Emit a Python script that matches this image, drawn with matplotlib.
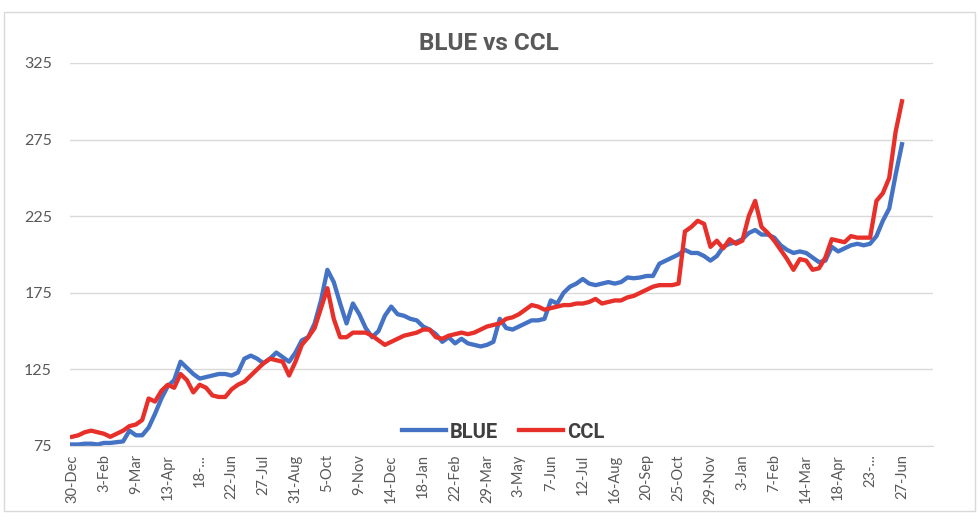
import numpy as np
import pandas as pd
import matplotlib
matplotlib.use('Agg')
import matplotlib.pyplot as plt
import matplotlib.dates as mdates
from matplotlib.patches import Rectangle

plt.rcParams['font.family'] = ['Lato', 'DejaVu Sans']

# weekly readings, starting Monday 30-Dec-2019
start = pd.Timestamp('2019-12-30')
weeks = pd.date_range(start, periods=131, freq='7D')

blue = [76, 76, 76.5, 76.5, 76, 77, 77, 77.5, 78, 85,
        82, 82, 87, 96, 106, 114, 118, 130, 126, 122,
        119, 120, 121, 122, 122, 121, 123, 132, 134, 132,
        129, 132, 136, 133, 130, 136, 144, 146, 155, 170,
        190, 182, 168, 155, 168, 161, 152, 146, 150, 160,
        166, 161, 160, 158, 157, 153, 151, 148, 143, 146,
        142, 145, 142, 141, 140, 141, 143, 158, 152, 151,
        153, 155, 157, 157, 158, 170, 168, 175, 179, 181,
        184, 181, 180, 181, 182, 181, 182, 185, 184.5, 185,
        186, 186, 194, 196, 198, 200, 203, 201, 201, 199,
        196, 199, 205, 207, 208, 210, 214, 216, 213, 213,
        211, 206, 203, 201, 202, 201, 198, 195, 196, 205,
        202, 204, 206, 207, 206, 207, 212, 222, 230, 252,
        272]

ccl = [81, 82, 84, 85, 84, 83, 81, 83, 85, 88,
       89, 92, 106, 104, 111, 115, 113, 122, 118, 110,
       115, 113, 108, 107, 107, 112, 115, 117, 121, 125,
       129, 132, 131, 130, 121, 130, 141, 146, 152, 165,
       178, 158, 146, 146, 149, 149, 149, 147, 144, 141,
       143, 145, 147, 148, 149, 151, 151, 146, 145, 147,
       148, 149, 148, 149, 151, 153, 154, 155, 158, 159,
       161, 164, 167, 166, 164, 165, 166, 167, 167, 168,
       168, 169, 171, 168, 169, 170, 170, 172, 173, 175,
       177, 179, 180, 180, 180, 181, 215, 218, 222, 220,
       205, 209, 204, 210, 207, 209, 225, 235, 218, 214,
       209, 203, 197, 190, 197, 196, 190, 191, 198, 210,
       209, 208, 212, 211, 211, 211, 235, 240, 250, 280,
       300]

tick_dates = weeks[::5]
tick_labels = [d.strftime('%-d-%b') for d in tick_dates]
tick_labels[4] = '18-...'
tick_labels[25] = '23-...'

fig = plt.figure(figsize=(9.8, 5.2), dpi=100)
fig.patches.append(Rectangle((4 / 980, 9 / 520), 971 / 980, 499 / 520, transform=fig.transFigure,
                             fill=False, edgecolor='#d9d9d9', lw=1))
ax = fig.add_axes([70 / 980, 1 - 446 / 520, 863 / 980, 383 / 520])

ax.plot(weeks, blue, color='#4472c4', lw=3.1, label='BLUE', solid_joinstyle='round')
ax.plot(weeks, ccl, color='#e8302a', lw=3.1, label='CCL', solid_joinstyle='round')

ax.set_ylim(75, 325)
ax.set_yticks([75, 125, 175, 225, 275, 325])
ax.set_xlim(start - pd.Timedelta(days=2.2), start + pd.Timedelta(days=944))
ax.set_xticks(tick_dates)
ax.set_xticklabels(tick_labels, rotation=90)

ax.grid(axis='y', color='#d9d9d9', lw=1)
ax.set_axisbelow(True)
for s in ['top', 'right', 'left']:
    ax.spines[s].set_visible(False)
ax.spines['bottom'].set_color('#d9d9d9')
ax.tick_params(axis='both', length=0, colors='#595959')
ax.tick_params(axis='y', pad=13, labelsize=11.5)
ax.tick_params(axis='x', pad=6, labelsize=10.5)

fig.text(489 / 980, 1 - 43 / 520, 'BLUE vs CCL', ha='center', va='center',
         fontsize=17.5, fontweight='bold', color='#595959', family=['Roboto', 'DejaVu Sans'])

leg = ax.legend(loc='center', bbox_to_anchor=(503 / 980, 1 - 432 / 520),
                bbox_transform=fig.transFigure, ncol=2, frameon=False,
                handlelength=2.2, columnspacing=1.0, handletextpad=0.2,
                prop={'weight': 'bold', 'size': 14.5, 'family': ['Roboto', 'DejaVu Sans']})
for t in leg.get_texts():
    t.set_color('#404040')

fig.savefig('out.png', dpi=100)
